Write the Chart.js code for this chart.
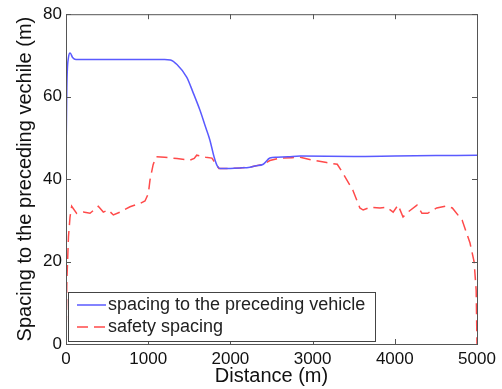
<!DOCTYPE html>
<html>
<head>
<meta charset="utf-8">
<script src="https://cdn.jsdelivr.net/npm/chart.js@4/dist/chart.umd.min.js"></script>
<style>
  html, body { margin: 0; padding: 0; background: #fff; }
  #wrap { width: 502px; height: 389px; }
</style>
</head>
<body>
<div id="wrap"><canvas id="c" width="502" height="389"></canvas></div>
<script>
// distance (m) and spacing (m)
const spacingX = [0, 10, 30, 50, 80, 120, 400, 800, 1200, 1270, 1350, 1470, 1550, 1630, 1700, 1750, 1800, 1840, 1870, 2000, 2117, 2238, 2300, 2400, 2480, 2565, 2700, 2850, 3500, 4000, 4500, 5000];
const spacingY = [44, 62, 69.5, 70.6, 69.5, 69.0, 69.0, 69.0, 69.0, 68.9, 67.8, 64.7, 60.8, 56.7, 52.5, 49.5, 45.5, 43.2, 42.6, 42.6, 42.7, 42.9, 43.2, 43.6, 45.1, 45.3, 45.4, 45.6, 45.5, 45.6, 45.7, 45.8];

const safetyX = [0, 10, 30, 49, 69, 130, 210, 292, 393, 454, 515, 576, 657, 779, 900, 961, 1002, 1022, 1060, 1095, 1200, 1350, 1510, 1560, 1590, 1700, 1775, 1860, 2000, 2117, 2238, 2300, 2400, 2480, 2600, 2750, 2850, 3000, 3170, 3300, 3370, 3490, 3575, 3615, 3700, 3820, 3900, 3980, 4040, 4100, 4160, 4270, 4330, 4400, 4510, 4630, 4700, 4820, 4915, 4965, 4990, 5000];
const safetyY = [0, 15, 26, 30.8, 33.4, 31.7, 32, 31.7, 33.4, 32, 32.5, 31.3, 32, 33.3, 34.1, 34.7, 36.5, 39.8, 43.5, 45.4, 45.3, 45.0, 44.6, 45.0, 45.8, 45.3, 45.1, 42.6, 42.6, 42.7, 42.9, 43.2, 43.6, 44.5, 45.1, 45.2, 45.3, 44.6, 44.0, 43.6, 41.4, 37.3, 33, 32.5, 33.2, 33, 33.2, 32, 33.7, 30.8, 32, 33.7, 31.7, 31.7, 33, 33.5, 33, 30, 24.5, 19.9, 13, 0];

const xTicks = [0, 1000, 2000, 3000, 4000, 5000];
const yTicks = [0, 20, 40, 60, 80];
const seriesNames = ['spacing to the preceding vehicle', 'safety spacing'];

const blue = '#5a5aff';
const red = '#ff4a4a';
const fontFamily = '"Liberation Sans", Arial, sans-serif';

const toPoints = (xs, ys) => xs.map((x, i) => ({ x: x, y: ys[i] }));

// matlab style box with inward ticks on all four sides
const boxPlugin = {
  id: 'box',
  afterDraw(chart) {
    const { ctx, chartArea: a, scales } = chart;
    ctx.save();
    ctx.strokeStyle = '#555';
    ctx.lineWidth = 1;
    ctx.strokeRect(a.left + 0.5, a.top + 0.5, a.right - a.left, a.bottom - a.top);
    ctx.beginPath();
    xTicks.forEach(v => {
      const px = Math.round(scales.x.getPixelForValue(v)) + 0.5;
      ctx.moveTo(px, a.bottom); ctx.lineTo(px, a.bottom - 5);
      ctx.moveTo(px, a.top); ctx.lineTo(px, a.top + 5);
    });
    yTicks.forEach(v => {
      const py = Math.round(scales.y.getPixelForValue(v)) + 0.5;
      ctx.moveTo(a.left, py); ctx.lineTo(a.left + 5, py);
      ctx.moveTo(a.right, py); ctx.lineTo(a.right - 5, py);
    });
    ctx.stroke();

    // legend box in the lower left corner
    const lx = a.left + 2, ly = a.bottom - 52, lw = 307, lh = 49;
    ctx.fillStyle = '#fff';
    ctx.fillRect(lx, ly, lw, lh);
    ctx.strokeStyle = '#444';
    ctx.strokeRect(lx + 0.5, ly + 0.5, lw, lh);
    const colors = [blue, red];
    const dashes = [[], [11, 6]];
    ctx.font = '18px ' + fontFamily;
    ctx.textBaseline = 'middle';
    seriesNames.forEach((name, i) => {
      const yy = ly + 13 + i * 22;
      ctx.strokeStyle = colors[i];
      ctx.lineWidth = 1.5;
      ctx.setLineDash(dashes[i]);
      ctx.beginPath();
      ctx.moveTo(lx + 9, yy); ctx.lineTo(lx + 38, yy);
      ctx.stroke();
      ctx.setLineDash([]);
      ctx.fillStyle = '#222';
      ctx.fillText(name, lx + 40, yy);
    });
    ctx.restore();
  }
};

new Chart(document.getElementById('c'), {
  type: 'line',
  data: {
    datasets: [
      {
        label: seriesNames[0],
        data: toPoints(spacingX, spacingY),
        borderColor: blue,
        borderWidth: 1.5,
        pointRadius: 0,
        cubicInterpolationMode: 'monotone'
      },
      {
        label: seriesNames[1],
        data: toPoints(safetyX, safetyY),
        borderColor: red,
        borderWidth: 1.5,
        borderDash: [11, 6],
        pointRadius: 0,
        tension: 0
      }
    ]
  },
  options: {
    responsive: false,
    animation: false,
    layout: { padding: { left: 0, right: 25, top: 14, bottom: 0 } },
    plugins: {
      legend: { display: false },
      tooltip: { enabled: false }
    },
    scales: {
      x: {
        type: 'linear',
        min: 0, max: 5000,
        afterBuildTicks: s => { s.ticks = xTicks.map(v => ({ value: v })); },
        afterFit: s => { s.height = 45; },
        grid: { display: false, drawTicks: false },
        border: { display: false },
        ticks: {
          color: '#111',
          padding: 5,
          maxRotation: 0,
          callback: v => String(v),
          font: { family: fontFamily, size: 17 }
        },
        title: {
          display: true,
          text: 'Distance (m)',
          color: '#111',
          padding: { top: 0, bottom: 1 },
          font: { family: fontFamily, size: 20 }
        }
      },
      y: {
        min: 0, max: 80,
        afterBuildTicks: s => { s.ticks = yTicks.map(v => ({ value: v })); },
        afterFit: s => { s.width = 66; },
        grid: { display: false, drawTicks: false },
        border: { display: false },
        ticks: {
          color: '#111',
          padding: 4,
          callback: v => String(v),
          font: { family: fontFamily, size: 17 }
        },
        title: {
          display: true,
          text: 'Spacing to the preceding vechile (m)',
          color: '#111',
          padding: { top: 13, bottom: 0 },
          font: { family: fontFamily, size: 20 }
        }
      }
    }
  },
  plugins: [boxPlugin]
});
</script>
</body>
</html>
